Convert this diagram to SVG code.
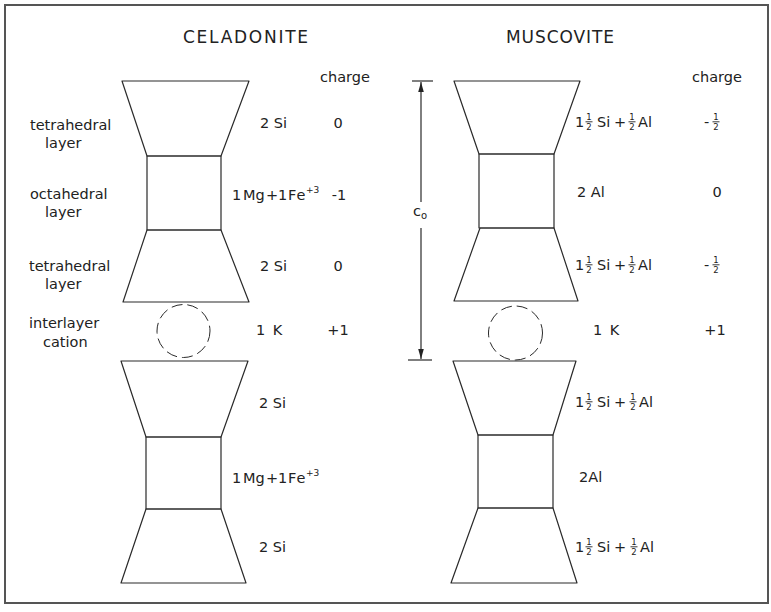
<svg xmlns="http://www.w3.org/2000/svg" xmlns:xlink="http://www.w3.org/1999/xlink" width="771" height="612" viewBox="0 0 771 612">
<style>
  .ln{fill:none;stroke:#2a2a2a;stroke-width:1.2;stroke-linejoin:round}
  .dash{fill:none;stroke:#2a2a2a;stroke-width:1;stroke-dasharray:11 5}
  .t{font-family:"DejaVu Sans","Liberation Sans",sans-serif;font-size:14.5px;fill:#222}
  .ttl{font-family:"DejaVu Sans","Liberation Sans",sans-serif;font-size:17px;fill:#222}
  .fr{font-family:"DejaVu Sans","Liberation Sans",sans-serif;font-size:8.5px;fill:#222;text-anchor:middle}
  .sup{font-size:9px}
  .mid{text-anchor:middle}
</style>
<defs>
  <g id="half">
    <text class="fr" x="0" y="-6.8">1</text>
    <line x1="-3.5" y1="-5.2" x2="3.5" y2="-5.2" stroke="#222" stroke-width="0.9"/>
    <text class="fr" x="0" y="2.5">2</text>
  </g>
  <marker id="arr" viewBox="0 0 10 10" refX="10" refY="5" markerWidth="10" markerHeight="10" markerUnits="userSpaceOnUse" orient="auto">
    <path d="M0,2.2 L10,5 L0,7.8 Z" fill="#222"/>
  </marker>
</defs>
<rect x="0" y="0" width="771" height="612" fill="#ffffff"/>
<rect x="5" y="5" width="763" height="598" fill="none" stroke="#555" stroke-width="2"/>

<g id="titles">
  <text class="ttl" x="183" y="43" textLength="125" lengthAdjust="spacing">CELADONITE</text>
  <text class="ttl" x="506" y="43" textLength="108" lengthAdjust="spacing">MUSCOVITE</text>
  <text class="t" x="320" y="82">charge</text>
  <text class="t" x="692" y="82">charge</text>
</g>

<g id="layer-labels">
  <text class="t" x="30" y="130">tetrahedral</text>
  <text class="t" x="45" y="148">layer</text>
  <text class="t" x="30" y="199">octahedral</text>
  <text class="t" x="45" y="217">layer</text>
  <text class="t" x="29" y="271">tetrahedral</text>
  <text class="t" x="45" y="289">layer</text>
  <text class="t" x="29" y="328">interlayer</text>
  <text class="t" x="43" y="347">cation</text>
</g>

<!-- Celadonite upper unit -->
<g id="cel-tet1">
  <polygon class="ln" points="122,81 249,81 221,156 147,156"/>
  <text class="t" x="260" y="128">2 Si</text>
  <text class="t mid" x="338" y="128">0</text>
</g>
<g id="cel-oct1">
  <rect class="ln" x="147" y="156" width="74" height="74"/>
  <text class="t" y="200"><tspan x="232">1</tspan><tspan x="243">Mg</tspan><tspan x="266">+</tspan><tspan x="278">1</tspan><tspan x="288" letter-spacing="1">Fe</tspan><tspan class="sup" x="306" dy="-7">+3</tspan></text>
  <text class="t mid" x="339" y="200">-1</text>
</g>
<g id="cel-tet2">
  <polygon class="ln" points="147,230 221,230 249,302 123,302"/>
  <text class="t" x="260" y="271">2 Si</text>
  <text class="t mid" x="338" y="271">0</text>
</g>
<g id="cel-cation">
  <circle class="dash" cx="183.5" cy="331" r="26.5"/>
  <text class="t" x="256" y="335">1 <tspan dx="3">K</tspan></text>
  <text class="t mid" x="338" y="335">+1</text>
</g>
<!-- Celadonite lower unit -->
<g id="cel-tet3">
  <polygon class="ln" points="121,361 248,361 221,437 146,437"/>
  <text class="t" x="259" y="408">2 Si</text>
</g>
<g id="cel-oct2">
  <rect class="ln" x="146" y="437" width="75" height="72"/>
  <text class="t" y="483"><tspan x="232">1</tspan><tspan x="243">Mg</tspan><tspan x="266">+</tspan><tspan x="278">1</tspan><tspan x="288" letter-spacing="1">Fe</tspan><tspan class="sup" x="306" dy="-7">+3</tspan></text>
</g>
<g id="cel-tet4">
  <polygon class="ln" points="146,509 221,509 246,583 121,583"/>
  <text class="t" x="259" y="552">2 Si</text>
</g>

<!-- Muscovite upper unit -->
<g id="mus-tet1">
  <polygon class="ln" points="454,81 580,81 554,154 479,154"/>
  <text class="t" y="127"><tspan x="575">1</tspan><tspan x="597">Si</tspan><tspan x="614">+</tspan><tspan x="638">Al</tspan></text>
  <use xlink:href="#half" href="#half" x="589" y="127"/>
  <use xlink:href="#half" href="#half" x="632" y="127"/>
  <text class="t" x="704" y="127">-</text>
  <use xlink:href="#half" href="#half" x="716" y="127"/>
</g>
<g id="mus-oct1">
  <rect class="ln" x="479" y="154" width="75" height="74"/>
  <text class="t" x="577" y="197">2 Al</text>
  <text class="t mid" x="717" y="197">0</text>
</g>
<g id="mus-tet2">
  <polygon class="ln" points="480,228 554,228 578,301 454,301"/>
  <text class="t" y="270"><tspan x="575">1</tspan><tspan x="597">Si</tspan><tspan x="614">+</tspan><tspan x="638">Al</tspan></text>
  <use xlink:href="#half" href="#half" x="589" y="270"/>
  <use xlink:href="#half" href="#half" x="632" y="270"/>
  <text class="t" x="704" y="270">-</text>
  <use xlink:href="#half" href="#half" x="716" y="270"/>
</g>
<g id="mus-cation">
  <circle class="dash" cx="515.5" cy="333" r="27"/>
  <text class="t" x="593" y="335">1 <tspan dx="3">K</tspan></text>
  <text class="t mid" x="715" y="335">+1</text>
</g>
<!-- Muscovite lower unit -->
<g id="mus-tet3">
  <polygon class="ln" points="453,361 576,361 553,435 478,435"/>
  <text class="t" y="407"><tspan x="575">1</tspan><tspan x="597">Si</tspan><tspan x="614">+</tspan><tspan x="639">Al</tspan></text>
  <use xlink:href="#half" href="#half" x="589" y="407"/>
  <use xlink:href="#half" href="#half" x="633" y="407"/>
</g>
<g id="mus-oct2">
  <rect class="ln" x="478" y="435" width="75" height="73"/>
  <text class="t" x="579" y="482">2Al</text>
</g>
<g id="mus-tet4">
  <polygon class="ln" points="478,508 553,508 577,583 451,583"/>
  <text class="t" y="552"><tspan x="575">1</tspan><tspan x="597">Si</tspan><tspan x="614">+</tspan><tspan x="640">Al</tspan></text>
  <use xlink:href="#half" href="#half" x="589" y="552"/>
  <use xlink:href="#half" href="#half" x="634" y="552"/>
</g>

<!-- connectors: c0 dimension -->
<g id="connectors">
  <line class="ln" x1="412" y1="81" x2="433" y2="81"/>
  <line class="ln" x1="408" y1="360" x2="432" y2="360"/>
  <line class="ln" x1="421" y1="202" x2="421" y2="82" marker-end="url(#arr)"/>
  <line class="ln" x1="421" y1="228" x2="421" y2="359" marker-end="url(#arr)"/>
  <text class="t" x="413" y="216" font-size="16">c<tspan font-size="10" dy="3">o</tspan></text>
</g>
</svg>
